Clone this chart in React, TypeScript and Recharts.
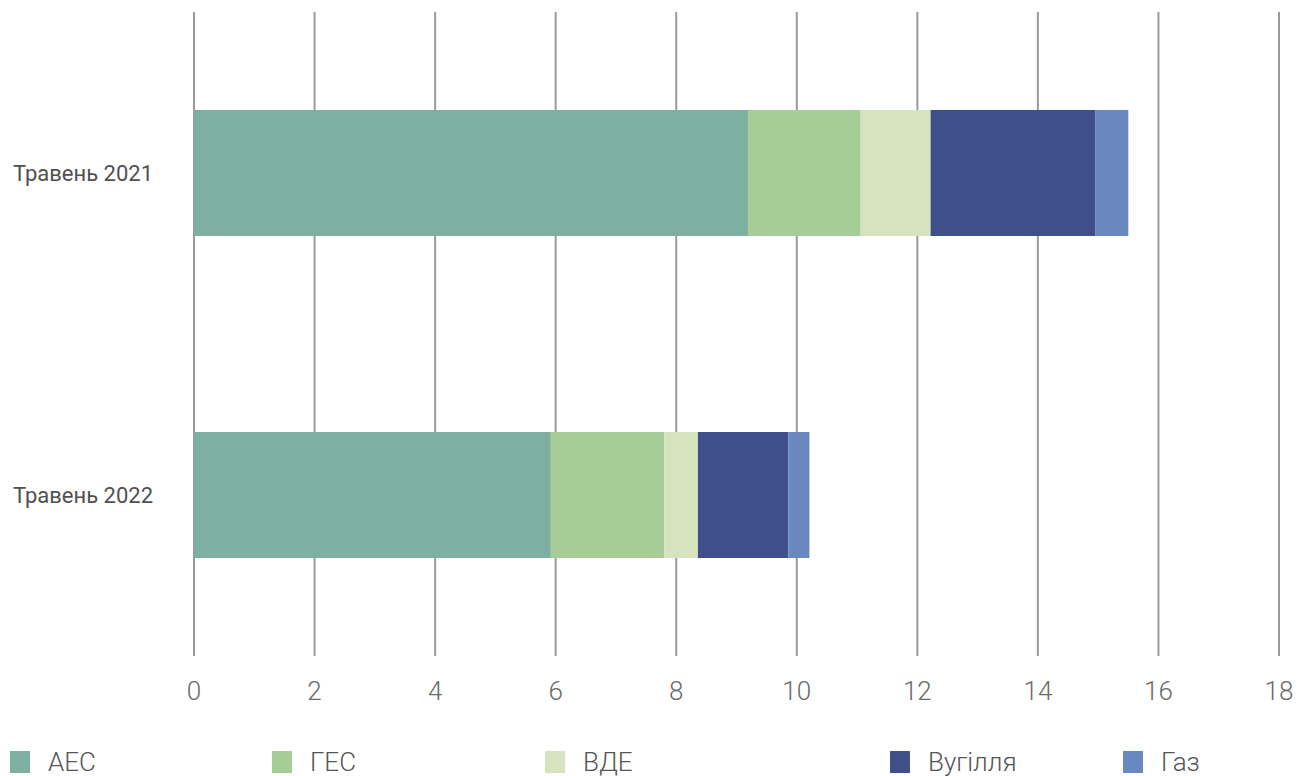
import React from "react";
import { BarChart, Bar, XAxis, YAxis, CartesianGrid } from "recharts";

// Генерація електроенергії за джерелами, травень 2021 vs травень 2022
const PERIODS = ["Травень 2021", "Травень 2022"];
const AES = [9.19, 5.92];
const GES = [1.87, 1.88];
const VDE = [1.16, 0.56];
const COAL = [2.73, 1.5];
const GAS = [0.55, 0.35];
const X_TICKS = [0, 2, 4, 6, 8, 10, 12, 14, 16, 18];

const SERIES = [
  { key: "aes", name: "АЕС", values: AES, color: "#7eb0a1" },
  { key: "ges", name: "ГЕС", values: GES, color: "#a7cd97" },
  { key: "vde", name: "ВДЕ", values: VDE, color: "#d5e3bf" },
  { key: "coal", name: "Вугілля", values: COAL, color: "#3f4f89" },
  { key: "gas", name: "Газ", values: GAS, color: "#6888bf" },
];

// лівий край маркера кожного пункту легенди
const LEGEND_LEFT = [10, 272, 545, 890, 1123];

const FONT = "Roboto, 'Noto Sans', sans-serif";

const data = PERIODS.map((period, i) => {
  const row: Record<string, string | number> = { period };
  SERIES.forEach((s) => {
    row[s.key] = s.values[i];
  });
  return row;
});

export default function App() {
  return (
    <div
      style={{
        position: "absolute",
        left: 0,
        top: 0,
        width: 1310,
        height: 776,
        background: "#fff",
        fontFamily: FONT,
      }}
    >
      <BarChart
        width={1310}
        height={720}
        data={data}
        layout="vertical"
        margin={{ top: 12, right: 31, left: 0, bottom: 0 }}
      >
        <CartesianGrid horizontal={false} stroke="#9a9a9a" strokeWidth={2} />
        <XAxis
          type="number"
          domain={[0, 18]}
          ticks={X_TICKS}
          axisLine={false}
          tickLine={false}
          tickSize={0}
          tickMargin={26}
          height={64}
          interval={0}
          tick={{ fontSize: 26, fill: "#6a6a6a", fontWeight: 300, fontFamily: FONT }}
        />
        <YAxis
          type="category"
          dataKey="period"
          width={194}
          axisLine={false}
          tickLine={false}
          tickSize={0}
          tickMargin={41}
          tick={{ fontSize: 22, fill: "#505050", fontWeight: 400, fontFamily: FONT }}
        />
        {SERIES.map((s) => (
          <Bar
            key={s.key}
            dataKey={s.key}
            name={s.name}
            stackId="a"
            fill={s.color}
            barSize={126}
            isAnimationActive={false}
          />
        ))}
      </BarChart>

      {/* Легенда */}
      {SERIES.map((s, i) => (
        <div
          key={s.key}
          style={{
            position: "absolute",
            left: LEGEND_LEFT[i],
            top: 751,
            height: 22,
            display: "flex",
            alignItems: "center",
          }}
        >
          <span style={{ width: 20, height: 22, background: s.color, display: "inline-block" }} />
          <span
            style={{
              marginLeft: 18,
              fontSize: 26,
              fontWeight: 300,
              color: "#555",
              lineHeight: "22px",
              whiteSpace: "nowrap",
            }}
          >
            {s.name}
          </span>
        </div>
      ))}
    </div>
  );
}
